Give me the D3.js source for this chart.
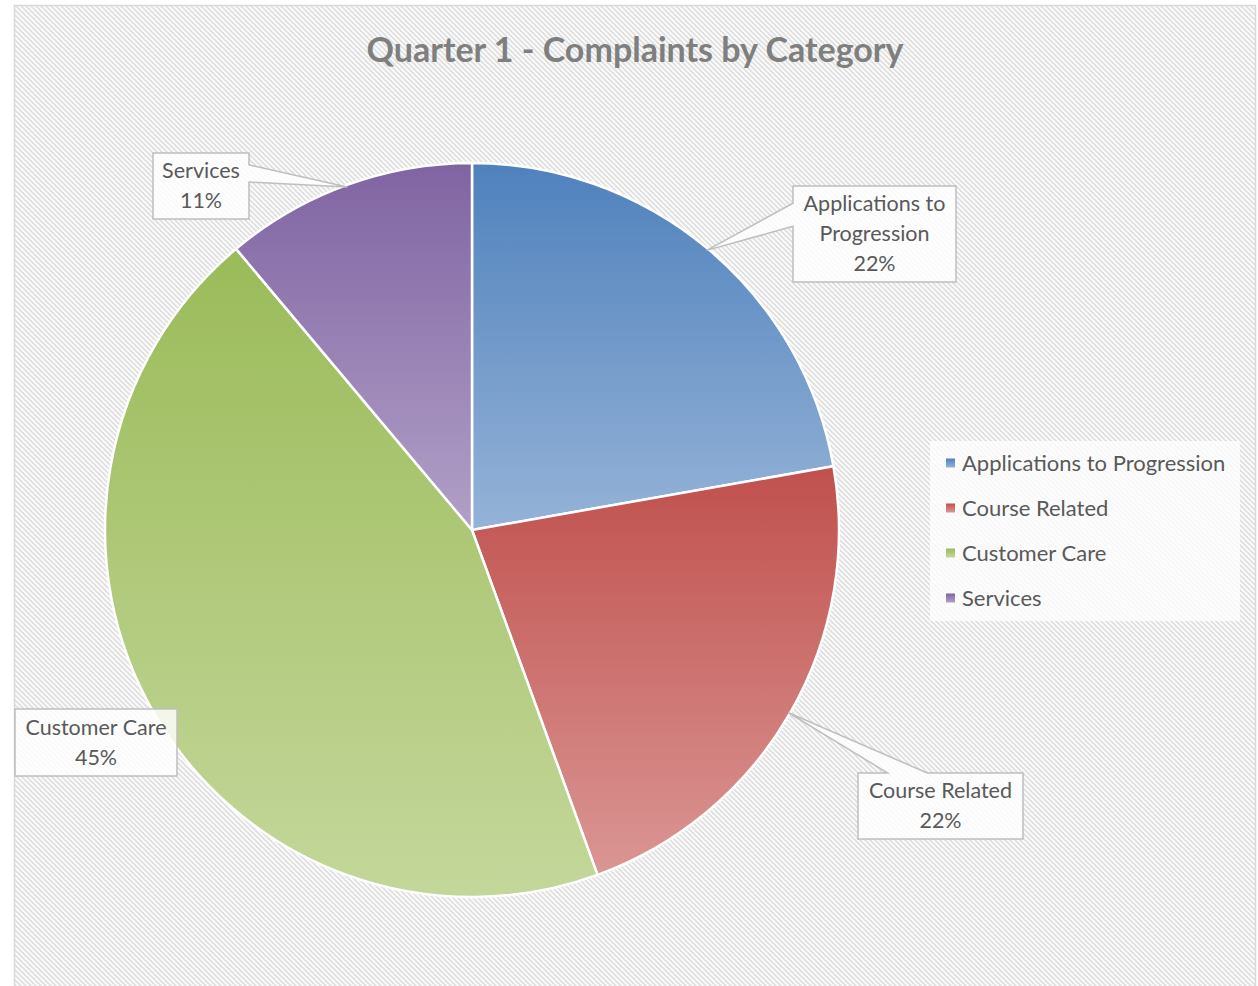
<!DOCTYPE html>
<html>
<head>
<meta charset="utf-8">
<script src="https://cdn.jsdelivr.net/npm/d3@7"></script>
<style>
  body { margin: 0; background: #fff; }
  svg { display: block; font-family: Lato, "Open Sans", sans-serif; }
</style>
</head>
<body>
<svg id="chart" width="1258" height="986"></svg>
<script>
// data
const categories = ["Applications to Progression", "Course Related", "Customer Care", "Services"]
const complaints = [2, 2, 4, 1]
const topColors = ["#4f81bd", "#c0504d", "#9bbb59", "#8064a2"]
const bottomColors = ["#95b3d7", "#da9694", "#c4d79b", "#b1a0c7"]

// label boxes (callouts): center, size, side of the pointer and where it sits on that side
const labelBoxes = [
  { cx: 874.5, cy: 234, w: 163, h: 96, side: "left", from: 0.58, to: 0.82 },
  { cx: 940.5, cy: 806, w: 165, h: 66, side: "top", from: 0.18, to: 0.42 },
  { cx: 96, cy: 742.5, w: 162, h: 67, side: null },
  { cx: 201, cy: 186, w: 96, h: 66, side: "right", from: 0.18, to: 0.44 }
]

var svg = d3.select("#chart"),
    width = +svg.attr("width"),
    height = +svg.attr("height")

var cx = 472, cy = 530, radius = 367

var defs = svg.append("defs")

// diagonal hatch for the chart area
var hatch = defs.append("pattern")
    .attr("id", "hatch")
    .attr("patternUnits", "userSpaceOnUse")
    .attr("width", 5)
    .attr("height", 5)
hatch.append("rect").attr("width", 5).attr("height", 5).attr("fill", "#fff")
hatch.append("path")
    .attr("d", "M-1,-1 L6,6 M-1,4 L1,6 M4,-1 L6,1")
    .attr("stroke", "#e2e2e2")
    .attr("stroke-width", 2)

// one vertical gradient per slice
categories.forEach(function(c, i) {
  var g = defs.append("linearGradient")
      .attr("id", "grad" + i)
      .attr("x1", 0).attr("y1", 0).attr("x2", 0).attr("y2", 1)
  g.append("stop").attr("offset", "0%").attr("stop-color", topColors[i])
  g.append("stop").attr("offset", "100%").attr("stop-color", bottomColors[i])
})

// chart area
svg.append("rect")
    .attr("x", 14.5)
    .attr("y", 5.5)
    .attr("width", 1241)
    .attr("height", height)
    .attr("fill", "url(#hatch)")
    .attr("stroke", "#d9d9d9")
    .attr("stroke-width", 1.5)

svg.append("text")
    .attr("x", 635)
    .attr("y", 62)
    .attr("text-anchor", "middle")
    .attr("font-size", 34)
    .attr("font-weight", "bold")
    .attr("fill", "#7f7f7f")
    .text("Quarter 1 - Complaints by Category")

// percentages that add up to 100 (largest remainder, like the spreadsheet does)
var total = d3.sum(complaints)
var raw = complaints.map(function(v) { return v / total * 100 })
var pcts = raw.map(Math.floor)
var left = 100 - d3.sum(pcts)
d3.range(raw.length)
    .sort(function(a, b) { return (raw[b] - pcts[b]) - (raw[a] - pcts[a]) })
    .slice(0, left)
    .forEach(function(i) { pcts[i] += 1 })

var pie = d3.pie().sort(null).value(function(d) { return d })
var arcs = pie(complaints)
var arc = d3.arc().innerRadius(0).outerRadius(radius)

var pieG = svg.append("g").attr("transform", "translate(" + cx + "," + cy + ")")

pieG.selectAll("path")
    .data(arcs)
    .enter().append("path")
    .attr("d", arc)
    .attr("fill", function(d, i) { return "url(#grad" + i + ")" })
    .attr("stroke", "#fff")
    .attr("stroke-width", 2.5)
    .attr("stroke-linejoin", "round")

// callout shape: rectangle with a pointer to the tip
function calloutPath(b, tip) {
  var x0 = b.cx - b.w / 2, x1 = b.cx + b.w / 2,
      y0 = b.cy - b.h / 2, y1 = b.cy + b.h / 2
  var pts = []
  function side(name, ax, ay, bx, by) {
    pts.push([ax, ay])
    if (b.side === name) {
      pts.push([ax + (bx - ax) * b.from, ay + (by - ay) * b.from])
      pts.push(tip)
      pts.push([ax + (bx - ax) * b.to, ay + (by - ay) * b.to])
    }
  }
  side("top", x0, y0, x1, y0)
  side("right", x1, y0, x1, y1)
  side("bottom", x1, y1, x0, y1)
  side("left", x0, y1, x0, y0)
  return "M" + pts.map(function(p) { return p[0] + "," + p[1] }).join("L") + "Z"
}

var labels = svg.append("g").attr("class", "labels")

arcs.forEach(function(d, i) {
  var b = labelBoxes[i]
  var a = (d.startAngle + d.endAngle) / 2
  var tip = [cx + Math.sin(a) * (radius - 2), cy - Math.cos(a) * (radius - 2)]
  labels.append("path")
      .attr("d", calloutPath(b, tip))
      .attr("fill", "rgba(255,255,255,0.82)")
      .attr("stroke", "#bfbfbf")
      .attr("stroke-width", 1.5)

  // break the long name into two lines when the box is narrow
  var lines = [categories[i]]
  if (categories[i] === "Applications to Progression") lines = ["Applications to", "Progression"]
  lines.push(pcts[i] + "%")
  var lh = 30
  var startY = b.cy - (lines.length - 1) * lh / 2 + 7
  lines.forEach(function(t, k) {
    labels.append("text")
        .attr("x", b.cx)
        .attr("y", startY + k * lh)
        .attr("text-anchor", "middle")
        .attr("font-size", 21.5)
        .attr("fill", "#595959")
        .text(t)
  })
})

// legend
var legend = svg.append("g").attr("class", "legend")
legend.append("rect")
    .attr("x", 930)
    .attr("y", 441)
    .attr("width", 310)
    .attr("height", 180)
    .attr("fill", "rgba(255,255,255,0.75)")

var rowY = d3.scalePoint().domain(categories).range([463, 598])

var item = legend.selectAll("g.item")
    .data(categories)
    .enter().append("g")
    .attr("class", "item")
    .attr("transform", function(d) { return "translate(0," + rowY(d) + ")" })

item.append("rect")
    .attr("x", 946)
    .attr("y", -4.5)
    .attr("width", 9)
    .attr("height", 9)
    .attr("fill", function(d, i) { return "url(#grad" + i + ")" })

item.append("text")
    .attr("x", 962)
    .attr("y", 7.5)
    .attr("font-size", 22)
    .attr("fill", "#595959")
    .text(function(d) { return d })
</script>
</body>
</html>
